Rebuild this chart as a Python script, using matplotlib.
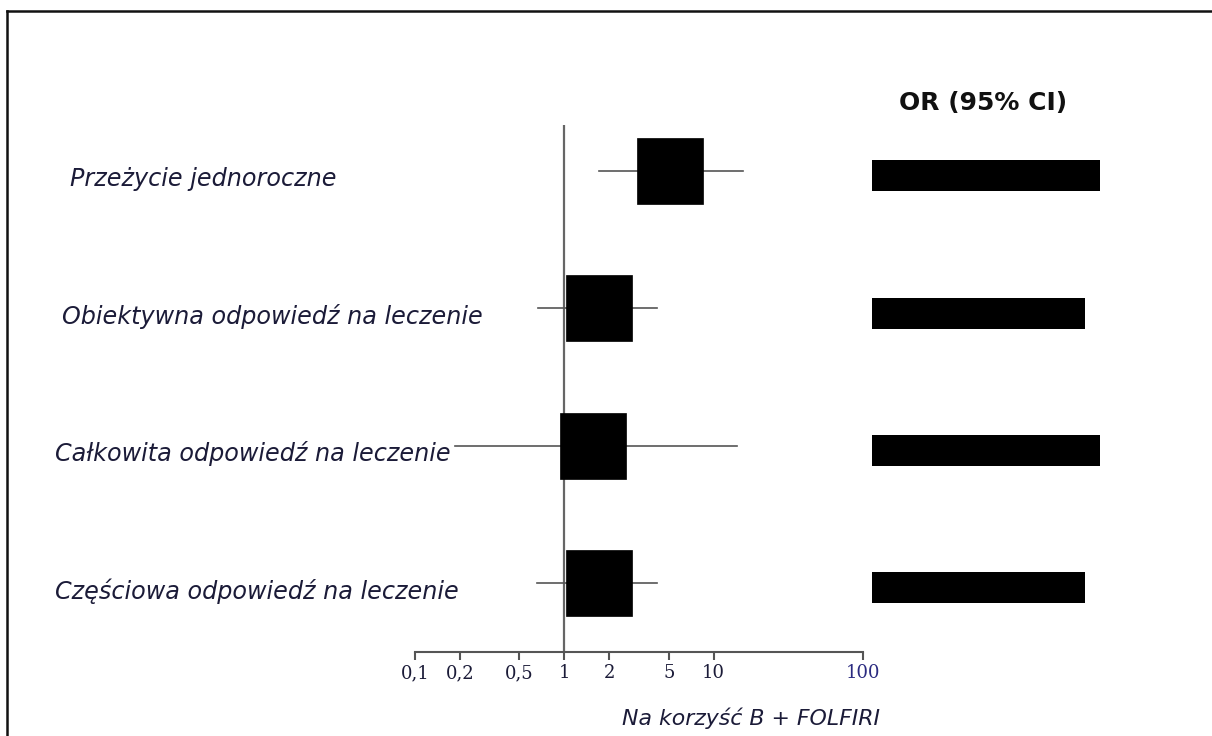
import numpy as np
import matplotlib.pyplot as plt
from matplotlib.ticker import FixedLocator, NullLocator
from matplotlib.lines import Line2D

# odds ratios with 95% confidence intervals
outcomes = ["Przeżycie jednoroczne",
            "Obiektywna odpowiedź na leczenie",
            "Całkowita odpowiedź na leczenie",
            "Częściowa odpowiedź na leczenie"]
or_est = [5.1, 1.7, 1.55, 1.7]
ci_low = [1.7, 0.67, 0.185, 0.66]
ci_high = [15.7, 4.15, 14.3, 4.15]

# masked OR (95% CI) text blocks, relative widths
mask_width = [1.0, 0.934, 1.0, 0.934]

tick_vals = [0.1, 0.2, 0.5, 1, 2, 5, 10, 100]
tick_labels = ["0,1", "0,2", "0,5", "1", "2", "5", "10", "100"]

W, H = 1212, 736
fig = plt.figure(figsize=(W / 100, H / 100), dpi=100)
navy = "#1b1b38"

ypos = np.arange(len(outcomes), 0, -1)
ylim = (0.497, 4.335)

# forest plot panel
ax = fig.add_axes([415 / W, 1 - 652 / H, 448 / W, (652 - 125) / H])
ax.set_xscale("log")
ax.set_xlim(0.1, 100)
ax.set_ylim(*ylim)
for s in ["top", "right", "left"]:
    ax.spines[s].set_visible(False)
ax.spines["bottom"].set_color("#555555")
ax.spines["bottom"].set_linewidth(1.5)
ax.yaxis.set_major_locator(NullLocator())
ax.xaxis.set_major_locator(FixedLocator(tick_vals))
ax.xaxis.set_minor_locator(NullLocator())
ax.set_xticklabels(tick_labels)
ax.tick_params(axis="x", direction="out", length=6, width=1.5, color="#555555",
               labelsize=13, labelcolor=navy, pad=3)
for lab in ax.get_xticklabels():
    lab.set_family("DejaVu Serif")
ax.get_xticklabels()[-1].set_color("#2a2a80")

ax.axvline(1, color="#666666", lw=1.6, zorder=1)
for y, est, lo, hi in zip(ypos, or_est, ci_low, ci_high):
    ax.plot([lo, hi], [y, y], color="#555555", lw=1.2, zorder=2)
    ax.plot(est, y, marker="s", ms=47.5, color="black", mew=0.5, zorder=3)

# row labels
label_x = [70, 62, 55, 55]
for y, name, lx in zip(ypos, outcomes, label_x):
    yf = ax.transData.transform((1, y))[1] - 8
    fig.text(lx / W, yf / H, name, ha="left", va="center", fontsize=17.2,
             style="italic", color=navy)

# right column with masked values
ax2 = fig.add_axes([872 / W, 1 - 652 / H, (1100 - 872) / W, (652 - 125) / H])
ax2.set_xlim(0, 1)
ax2.set_ylim(*ylim)
ax2.barh(ypos - 0.035, mask_width, height=0.226, left=0, color="black")
ax2.axis("off")

fig.text(983 / W, 1 - 103 / H, "OR (95% CI)", ha="center", va="center",
         fontsize=18, fontweight="bold", color="#111111")
fig.text(751 / W, 1 - 718 / H, "Na korzyść B + FOLFIRI", ha="center",
         va="center", fontsize=15.8, style="italic", color=navy)

# frame lines on top and left edges
fig.add_artist(Line2D([6.5 / W, 1], [1 - 10.5 / H, 1 - 10.5 / H],
                      transform=fig.transFigure, color="#111111", lw=1.8))
fig.add_artist(Line2D([6.5 / W, 6.5 / W], [0, 1 - 10.5 / H],
                      transform=fig.transFigure, color="#111111", lw=1.8))

fig.savefig("out.png", dpi=100, facecolor="white")
